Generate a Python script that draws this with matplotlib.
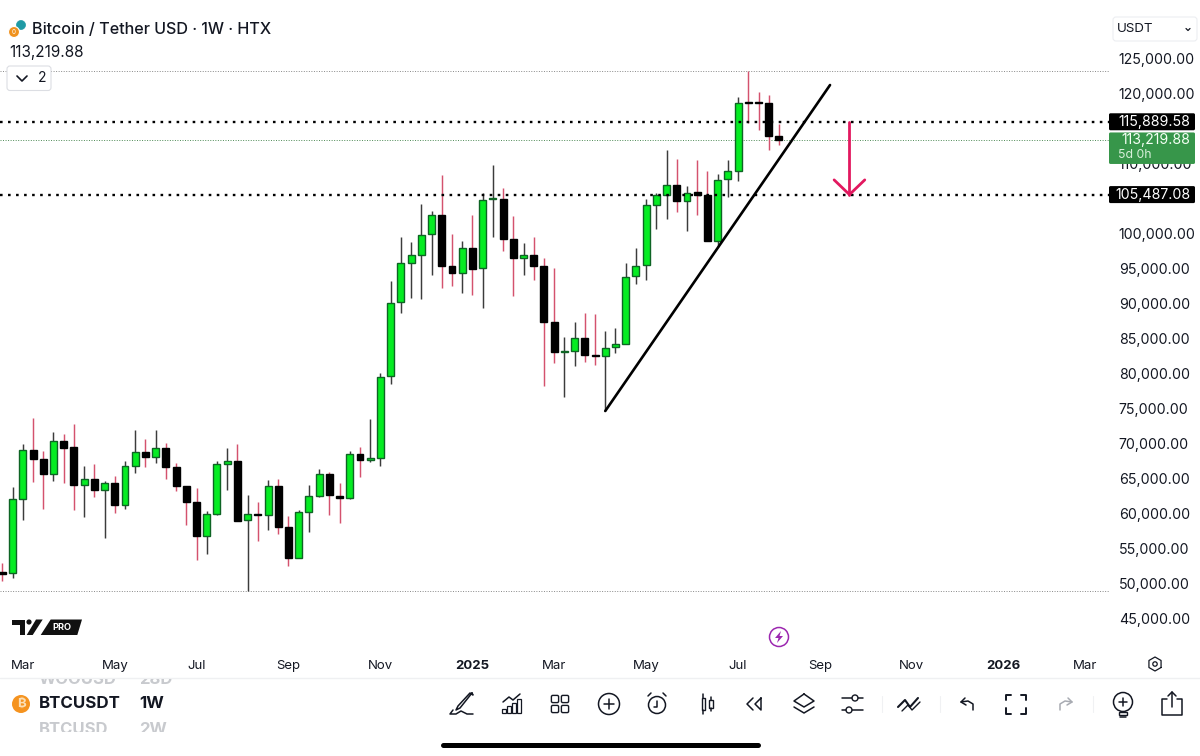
import matplotlib
matplotlib.use("Agg")
import matplotlib.pyplot as plt
from matplotlib import font_manager as fm
from matplotlib.ft2font import FT2Font
from matplotlib.patches import Circle, FancyBboxPatch, Polygon, Rectangle
from matplotlib.transforms import Bbox, TransformedBbox
import numpy as np

plt.rcParams['font.family'] = ['Inter', 'DejaVu Sans']

# ---------------- data (weekly BTC/USDT candles) ----------------
opens = [51570,51380,62050,68950,67760,65520,70240,69380,63950,64810,
         63330,64240,61190,66760,68670,67950,69330,66520,63900,61520,
         56670,59860,66950,67430,58950,59860,59710,63860,58050,53520,
         60140,62480,65570,62480,62100,68480,67570,67900,79520,90140,
         95760,96860,99810,102570,95290,94330,97860,94950,104860,104860,
         99190,96380,96810,95330,87290,82950,83190,85000,82570,82480,
         83670,84190,93810,95380,104000,105380,106860,104570,105810,105430,
         98900,107670,108810,118670,118670,118520,113860]
closes = [51290,62000,68950,67710,65520,70240,69330,63950,64810,63290,
          64240,61190,66710,68670,67950,69330,66520,63900,61520,56670,
          59860,66950,67430,58900,59860,59710,63860,58050,53520,60100,
          62430,65570,62520,62100,68480,67570,67860,79470,90050,95760,
          96860,99760,102570,95290,94330,97860,94900,104760,104950,99190,
          96380,96810,95330,87290,82950,83100,85000,82620,82480,83620,
          84140,93710,95290,103950,105380,106860,104570,105760,105480,98860,
          107620,108810,118520,118570,118570,113860,113220]
highs = [52860,63670,69860,73570,68810,71520,71240,72670,66670,67050,
         64570,65290,67480,71860,70520,71860,70050,67100,63900,63620,
         60240,67380,69240,69900,62520,61620,64760,64860,59620,60380,
         64000,66290,65860,64290,68810,69380,73430,79960,93100,99430,
         98670,104100,103190,108240,99860,98810,102620,105670,109760,106380,
         102380,98620,99380,96380,94950,85140,87290,88620,88380,86000,
         86380,95670,97810,104900,105670,111860,110620,106710,110480,108860,
         108430,110430,119380,123140,120190,119710,115620]
lows = [50330,50760,59000,64380,60570,64520,64330,60480,59430,62290,
        56380,60050,60570,65760,66520,67140,64810,63190,58290,53330,
        54140,59760,63290,58900,48900,55950,57620,57050,52380,53520,
        57330,62240,59710,58620,62050,65100,67330,66760,78430,88620,
        90760,90620,94000,92140,92380,91480,91100,89240,99430,97480,
        90950,94000,93290,78100,81380,76520,81050,81570,81190,74570,
        82900,84190,92710,93290,100620,102000,103000,100330,102620,98860,
        98050,105100,107380,115760,114710,111900,112620]

# 105,000 and 115,000 sit fully behind the level boxes in the reference
price_ticks = [45000,50000,55000,60000,65000,70000,75000,80000,85000,90000,95000,100000,110000,120000,125000]
date_positions = [2, 11, 19, 28, 37, 46, 54, 63, 72, 80, 89, 98, 106]
date_labels = ['Mar','May','Jul','Sep','Nov','2025','Mar','May','Jul','Sep','Nov','2026','Mar']

level_resistance = 115889.58
level_support = 105487.08
last_price = 113219.88
range_high = 123140
range_low = 48900
trend_x = [59, 81]
trend_y = [74570, 121140]
arrow_x = 82.9
arrow_head_dx = 1.5
arrow_head_dy = 2100

GREEN = '#05ec22'
GREEN_EDGE = '#0e6424'
RED_WICK = '#d4526e'
DARK_WICK = '#3c3c3c'
PINK = '#e2185f'
TXT = '#131722'

fig = plt.figure(figsize=(12, 7.56), dpi=100, facecolor='white')
ax = fig.add_axes([0, 106/756, 1110/1200, 650/756])
ax.set_xlim(-0.235, 108.4)
ax.set_ylim(40429, 133286)
for s in ax.spines.values():
    s.set_visible(False)

idx = np.arange(len(opens))
o, c, h, l = map(np.array, (opens, closes, highs, lows))
up = c >= o
ax.vlines(idx[up], l[up], h[up], color=DARK_WICK, lw=1.05, zorder=2)
ax.vlines(idx[~up], l[~up], h[~up], color=RED_WICK, lw=1.05, zorder=2)
ax.bar(idx[up], (c-o)[up], bottom=o[up], width=0.68, color=GREEN, edgecolor=GREEN_EDGE, linewidth=1.0, zorder=3)
ax.bar(idx[~up], (c-o)[~up], bottom=o[~up], width=0.68, color='black', edgecolor='black', linewidth=1.0, zorder=3)

ax.axhline(level_resistance, color='black', lw=1.7, dashes=(1.1, 2.3), zorder=4)
ax.axhline(level_support, color='black', lw=1.7, dashes=(1.1, 2.3), zorder=4)
ax.axhline(last_price, color='#4d8a55', lw=0.7, dashes=(1, 1.6), zorder=1)
ax.axhline(range_high, color='#888888', lw=0.7, dashes=(1, 1.6), zorder=1)
ax.axhline(range_low, color='#888888', lw=0.7, dashes=(1, 1.6), zorder=1)

ax.plot(trend_x, trend_y, color='black', lw=1.9, solid_capstyle='round', zorder=5)
ax.plot([arrow_x, arrow_x], [level_resistance, level_support], color=PINK, lw=2.0, solid_capstyle='round', zorder=5)
ax.plot([arrow_x-arrow_head_dx, arrow_x, arrow_x+arrow_head_dx],
        [level_support+arrow_head_dy, level_support, level_support+arrow_head_dy],
        color=PINK, lw=2.0, solid_capstyle='round', zorder=5)

ax.set_yticks(price_ticks)
ax.set_yticklabels([f'{v:,.2f}' for v in price_ticks])
ax.yaxis.tick_right()
ax.tick_params(axis='y', length=0, pad=6.3, labelsize=10.2, labelcolor=TXT)
ax.set_xticks(date_positions)
ax.set_xticklabels(date_labels)
ax.tick_params(axis='x', length=0, pad=7.0, labelsize=9.5, labelcolor=TXT)
for t in ax.get_xticklabels():
    if t.get_text().startswith('20'):
        t.set_fontweight('bold')

# ---------------- overlay for app chrome, in picture pixels ----------------
ui = fig.add_axes([0, 0, 1, 1], facecolor='none')
ui.set_xlim(0, 1200)
ui.set_ylim(756, 0)
ui.axis('off')

def py(v):
    return ui.transData.inverted().transform(ax.transData.transform((0, v)))[1]

def ln(xs, ys, color='#131722', lw=1.1, **kw):
    ui.plot(xs, ys, color=color, lw=lw, solid_capstyle='round', solid_joinstyle='round', **kw)

def circ(x, y, r, fc='none', ec='#131722', lw=1.1, z=3):
    ui.add_patch(Circle((x, y), r, facecolor=fc, edgecolor=ec, linewidth=lw, zorder=z))

def rbox(x0, y0, x1, y1, r, fc='white', ec='none', lw=0.8, z=2):
    ui.add_patch(FancyBboxPatch((x0+r, y0+r), x1-x0-2*r, y1-y0-2*r, boxstyle=f'round,pad={r}',
                                facecolor=fc, edgecolor=ec, linewidth=lw, zorder=z))

# price boxes
for lv in (level_resistance, level_support):
    yc = py(lv)
    rbox(1109, yc-8.5, 1195, yc+8.5, 1.5, fc='black')
    ui.text(1190, yc, f'{lv:,.2f}', color='white', fontsize=10.2, ha='right', va='center', zorder=5)
yc = py(last_price)
rbox(1109, yc-8, 1195, yc+23.5, 1.5, fc='#37964a', z=3)
ui.text(1190, yc, f'{last_price:,.2f}', color='#f4fff4', fontsize=10.2, ha='right', va='center', zorder=5)
ui.text(1118, yc+15, '5d 0h', color='#d8f0da', fontsize=8.8, ha='left', va='center', zorder=5)

# header
circ(21, 25, 4.5, fc='#1f9aa5', ec='#1f9aa5', lw=0.5)
circ(14, 32, 5.5, fc='#f0921e', ec='white', lw=0.8, z=4)
ui.text(14, 32, '0', color='white', fontsize=4.5, ha='center', va='center', zorder=5)
ui.text(32, 29, 'Bitcoin / Tether USD · 1W · HTX', color=TXT, fontsize=11.6, fontweight='medium', ha='left', va='center')
ui.text(9, 52, f'{last_price:,.2f}', color=TXT, fontsize=11.0, ha='left', va='center')
rbox(7, 66, 51, 90.5, 3, fc='white', ec='#dcdee3')
ln([17, 22, 27], [76, 81, 76], lw=1.2, zorder=4)
ui.text(42, 78, '2', color=TXT, fontsize=10, ha='center', va='center', zorder=4)
rbox(1113, 17, 1197, 41, 3, fc='white', ec='#eceef1')
ui.text(1117, 29, 'USDT', color=TXT, fontsize=9.6, ha='left', va='center', zorder=4)
ln([1186, 1188, 1190], [28.5, 30.5, 28.5], lw=0.9, zorder=4)

# logo
ui.add_patch(Polygon([(12,619.5),(25,619.5),(25,635),(19.5,635),(19.5,625),(12,625)], fc='#111111', ec='none'))
circ(29, 622, 2.6, fc='#111111', ec='none', lw=0)
ui.add_patch(Polygon([(36,619.5),(42.7,619.5),(32.7,635),(26.7,635)], fc='#111111', ec='none'))
ui.add_patch(Polygon([(50.7,619.5),(82,619.5),(77.3,635),(40.7,635)], fc='#111111', ec='none'))
ui.text(61.5, 627.5, 'PRO', color='white', fontsize=6.6, fontweight='bold', ha='center', va='center')

# lightning badge
circ(779, 637, 9.5, ec='#9c27b0', lw=1.1)
ui.add_patch(Polygon([(781,631),(775,638),(778.5,638),(777,643),(783,636),(779.5,636)], fc='#9c27b0', ec='none'))

# settings hexagon
ang = np.deg2rad(np.arange(0, 361, 60) + 30)
ln(1155+7*np.cos(ang), 664+7*np.sin(ang), lw=0.9)
circ(1155, 664, 2.2, lw=0.9)

# footer
ln([0, 1200], [678, 678], color='#eff0f2', lw=1.0)
circ(21, 704, 9, fc='#f5931f', ec='none', lw=0)
btc_family = None
for fam in ['Inter', 'Noto Sans', 'Roboto', 'Open Sans', 'Lato', 'Liberation Sans', 'Noto Sans CJK SC', 'DejaVu Sans']:
    try:
        if FT2Font(fm.findfont(fm.FontProperties(family=fam, weight='bold'))).get_char_index(0x20BF):
            btc_family = fam
            break
    except Exception:
        pass
if btc_family:
    ui.text(21, 704, '₿', color='#fbe0b8', fontsize=9.5, fontweight='bold', ha='center', va='center', zorder=5,
            family=[btc_family])
else:
    ln([19, 19], [699, 709], color='#fbe0b8', lw=1.3, zorder=5)
    ln([19, 23, 23, 19, 24, 24, 19], [699, 699, 703.6, 703.6, 703.6, 709, 709], color='#fbe0b8', lw=1.3, zorder=5)
ui.text(39, 704, 'BTCUSDT', color=TXT, fontsize=12.2, fontweight='bold', ha='left', va='center')
ui.text(139, 704, '1W', color=TXT, fontsize=12.2, fontweight='bold', ha='left', va='center')
clip_top = TransformedBbox(Bbox([[0, 678.5], [300, 690]]), ui.transData)
clip_bot = TransformedBbox(Bbox([[0, 720], [300, 731.5]]), ui.transData)
for x, s in ((39, 'WOOUSD'), (139, '28D')):
    t = ui.text(x, 680, s, color='#c8cace', fontsize=12, fontweight='bold', ha='left', va='center')
    t.set_clip_box(clip_top); t.set_clip_on(True)
for x, s in ((39, 'BTCUSD'), (139, '2W')):
    t = ui.text(x, 729.5, s, color='#c8cace', fontsize=12, fontweight='bold', ha='left', va='center')
    t.set_clip_box(clip_bot); t.set_clip_on(True)

# toolbar icons
Y = 704
# pen
ln([472, 460, 456, 458, 470, 473, 472], [693, 708, 710, 706, 693, 695, 693])
ln([453, 450, 456, 461, 467, 473], [710, 714, 714, 711, 714, 714])
# chart
for x0, h_ in ((502, 4), (507, 7), (512, 10), (517, 14)):
    ui.add_patch(Rectangle((x0, 713-h_), 4, h_, fc='none', ec=TXT, lw=0.9))
ln([503, 509, 513, 520], [702, 697, 700, 694])
# grid
for dx in (-5, 5):
    for dy in (-5, 5):
        rbox(560+dx-3.6, Y+dy-3.6, 560+dx+3.6, Y+dy+3.6, 1.4, fc='none', ec=TXT, lw=1.0)
# plus
circ(609, Y, 10.5, lw=1.1)
ln([609, 609], [Y-5, Y+5]); ln([604, 614], [Y, Y])
# alarm
circ(657, Y+1, 8.5, lw=1.1)
ln([657, 657, 654], [Y-3, Y+3, Y+3])
ln([648, 651], [Y-8, Y-11]); ln([666, 663], [Y-8, Y-11])
# candles
ui.add_patch(Rectangle((701.5, Y-6), 3.5, 12, fc='none', ec=TXT, lw=1.0))
ln([703.2, 703.2], [Y-10, Y-6]); ln([703.2, 703.2], [Y+6, Y+10])
ui.add_patch(Rectangle((709, Y-4), 3.5, 8, fc='none', ec=TXT, lw=1.0))
ln([710.7, 710.7], [Y-7, Y-4]); ln([710.7, 710.7], [Y+4, Y+7])
# rewind
ln([753, 747, 753], [Y-6, Y, Y+6]); ln([761, 755, 761, 761], [Y-6, Y, Y+6, Y-6])
# layers
ln([804, 814, 804, 794, 804], [Y-10, Y-3, Y+3, Y-3, Y-10])
ln([794, 804, 814], [Y+3, Y+9, Y+3])
# sliders
ln([842, 852], [Y-6, Y-6]); circ(855, Y-6, 3, lw=1.0); ln([858, 863], [Y-6, Y-6])
ln([842, 846], [Y+6, Y+6]); circ(849, Y+6, 3, lw=1.0); ln([852, 863], [Y+6, Y+6])
# double check
ln([898, 905, 910, 918], [Y+3, Y-4, Y+3, Y-6], lw=1.5)
ln([902, 908, 912, 920], [Y+7, Y+1, Y+6, Y-2], lw=1.0)
# undo
ln([965, 961, 966], [Y-6, Y-2, Y+1])
ln([961, 968, 973, 973], [Y-2, Y-3, Y, Y+6])
# frame
for sx, sy in ((-1, -1), (1, -1), (-1, 1), (1, 1)):
    ln([1016+sx*10, 1016+sx*10, 1016+sx*5], [Y+sy*4, Y+sy*9.5, Y+sy*9.5], lw=1.4)
# redo
ln([1068, 1072, 1067], [Y-6, Y-2, Y+1], color='#a8abb2')
ln([1072, 1065, 1060, 1060], [Y-2, Y-3, Y, Y+6], color='#a8abb2')
# bulb
circ(1123, Y-2, 9.5, lw=1.1)
ln([1123, 1123], [Y-6, Y+2]); ln([1119, 1127], [Y-2, Y-2])
ui.add_patch(Rectangle((1119, Y+7.5), 8, 3, fc='none', ec=TXT, lw=1.0, zorder=4))
ln([1120, 1126], [Y+13, Y+13])
# share
ln([1167, 1162, 1162, 1182, 1182, 1177], [Y-5, Y-5, Y+11, Y+11, Y-5, Y-5])
ln([1172, 1172], [Y+3, Y-12]); ln([1168, 1172, 1176], [Y-8, Y-12, Y-8])
# separators
for xs in (882, 940, 1093):
    ln([xs, xs], [Y-8, Y+8], color='#f0f1f3', lw=0.8)
# home bar
ui.plot([442.5, 757.5], [745, 745], color='black', lw=3.6, solid_capstyle='round')

fig.savefig('out.png', dpi=100, facecolor='white')
